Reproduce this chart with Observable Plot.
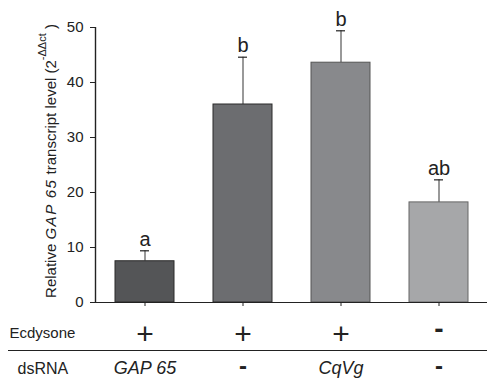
<!DOCTYPE html>
<html><head><meta charset="utf-8">
<script src="https://cdn.jsdelivr.net/npm/d3@7"></script>
<script src="https://cdn.jsdelivr.net/npm/@observablehq/plot@0.6"></script>
<style>
body{margin:0;background:#fff;font-family:"Liberation Sans",Arial,sans-serif;}
svg g[aria-label="y-axis tick label"] text{font-size:15px !important;}
</style>
</head><body><div id="chart"></div>
<script>
const groups = ["G1","G2","G3","G4"];
const values = [7.5, 36, 43.6, 18.2];
const errors = [1.9, 8.6, 5.8, 4.1];
const letters = ["a","b","b","ab"];
const ecdysone = ["+","+","+","-"];
const dsRNA = ["GAP 65","-","CqVg","-"];
const colors = ["#545557","#6c6d70","#88898c","#a6a7a9"];
const strokes = ["#2a2a2a","#2a2a2a","#555","#666"];
const yTicks = [0,10,20,30,40,50];

const data = groups.map((g,i)=>({g, v: values[i], e: values[i]+errors[i], l: letters[i], ec: ecdysone[i], ds: dsRNA[i], c: colors[i], s: strokes[i]}));
const dsItalic = data.filter(d => d.ds !== "-");
const dsDash = data.filter(d => d.ds === "-");

const chart = Plot.plot({
  width: 492, height: 379,
  marginTop: 27, marginBottom: 77, marginLeft: 95, marginRight: 5,
  style: {fontFamily: '"Liberation Sans", Arial, sans-serif', fontSize: "15px", color: "#222"},
  x: {domain: groups, padding: 0.4, paddingOuter: 0.2, label: null},
  y: {domain: [0, 50], label: null},
  marks: [
    Plot.axisY({ticks: yTicks, tickSize: 5, tickPadding: 7, label: null, stroke: "#222", fontSize: 15}),
    Plot.axisX({tickSize: 4, tickFormat: () => "", label: null, stroke: "#222"}),
    Plot.ruleX(data, {x: "g", y1: "v", y2: "e", stroke: "#555", strokeWidth: 1.2}),
    Plot.tickY(data, {x: "g", y: "e", stroke: "#222", strokeWidth: 1.2, insetLeft: 25, insetRight: 25}),
    Plot.barY(data, {x: "g", y: "v", fill: "c", stroke: "s", strokeWidth: 1}),
    Plot.ruleY([0], {stroke: "#222", strokeWidth: 1.2}),
    Plot.text(data, {x: "g", y: "e", text: "l", dy: -5, lineAnchor: "bottom", fontSize: 20, fill: "#222"}),
    Plot.text(data.filter(d=>d.ec==="+"), {x: "g", frameAnchor: "bottom", text: "ec", dy: 32, lineAnchor: "middle", fontSize: 30, fill: "#222"}),
    Plot.text(data.filter(d=>d.ec==="-"), {x: "g", frameAnchor: "bottom", text: "ec", dy: 27, lineAnchor: "middle", fontSize: 28, fontWeight: "bold", fill: "#222"}),
    Plot.text(dsItalic, {x: "g", frameAnchor: "bottom", text: "ds", dy: 66, lineAnchor: "middle", fontSize: 18, fontStyle: "italic", fill: "#222", letterSpacing: "2px"}),
    Plot.text(dsDash, {x: "g", frameAnchor: "bottom", text: "ds", dy: 64, lineAnchor: "middle", fontSize: 24, fontWeight: "bold", fill: "#222"}),
    Plot.text(["Ecdysone"], {frameAnchor: "bottom-left", text: d => d, dx: -86, dy: 31, lineAnchor: "middle", textAnchor: "start", fontSize: 15, fill: "#222"}),
    Plot.text(["dsRNA"], {frameAnchor: "bottom-left", text: d => d, dx: -78, dy: 66, lineAnchor: "middle", textAnchor: "start", fontSize: 16, fill: "#222"})
  ]
});
document.getElementById("chart").appendChild(chart);

const svg = d3.select(chart);
const ys = chart.scale("y");
// y axis line
svg.append("line").attr("x1", 95.5).attr("x2", 95.5)
  .attr("y1", ys.apply(0)).attr("y2", ys.apply(50)).attr("stroke", "#222").attr("stroke-width", 1.4);
// separator line between table rows
svg.append("line").attr("x1", 8).attr("x2", 487).attr("y1", 350.5).attr("y2", 350.5).attr("stroke", "#222").attr("stroke-width", 1.2);
// y-axis title with italic gene name and superscript
const t = svg.append("text")
  .attr("transform", "translate(56,161) rotate(-90)")
  .attr("text-anchor", "middle")
  .attr("font-size", 15)
  .attr("fill", "#222")
  .attr("font-family", '"Liberation Sans", Arial, sans-serif');
t.append("tspan").text("Relative ");
t.append("tspan").attr("font-style", "italic").attr("letter-spacing", "1.5px").text("GAP 65");
t.append("tspan").text(" transcript level (2");
t.append("tspan").attr("font-size", 11).attr("dy", -10).text("-ΔΔct");
t.append("tspan").attr("dy", 10).text(" )");
</script></body></html>
